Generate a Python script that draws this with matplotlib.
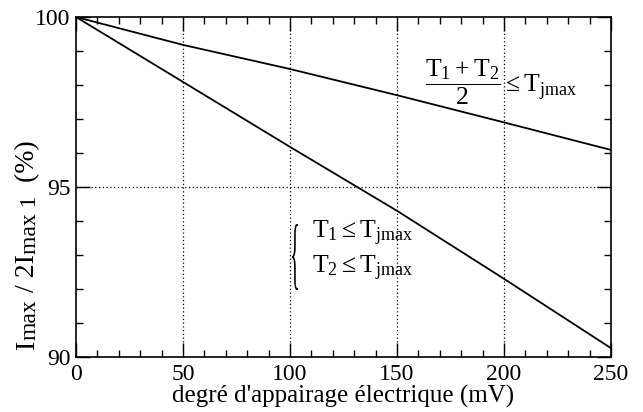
import matplotlib
matplotlib.use("Agg")
import matplotlib.pyplot as plt
from matplotlib.ticker import MultipleLocator
from matplotlib.textpath import TextPath
from matplotlib.font_manager import FontProperties
from matplotlib.patches import PathPatch
from matplotlib.transforms import Affine2D

plt.rcParams['font.family'] = ['Liberation Serif', 'DejaVu Serif']
plt.rcParams['mathtext.fontset'] = 'custom'
plt.rcParams['mathtext.rm'] = 'Liberation Serif'
plt.rcParams['mathtext.it'] = 'Liberation Serif'

# values
mv = [0, 50, 100, 150, 200, 250]
mean_limit = [100, 99.18, 98.47, 97.7, 96.9, 96.09]    # (T1+T2)/2 <= Tjmax
each_limit = [100, 98.09, 96.18, 94.3, 92.3, 90.26]    # T1, T2 <= Tjmax

W, H = 643, 412
L, R, T, B = 76, 611, 17, 357
fig = plt.figure(figsize=(W / 100, H / 100), dpi=100)
ax = fig.add_axes([L / W, 1 - B / H, (R - L) / W, (B - T) / H])

ax.plot(mv, mean_limit, color='black', lw=1.3)
ax.plot(mv, each_limit, color='black', lw=1.3)

ax.set_xlim(0, 250)
ax.set_ylim(90, 100)
ax.xaxis.set_major_locator(MultipleLocator(50))
ax.xaxis.set_minor_locator(MultipleLocator(10))
ax.yaxis.set_major_locator(MultipleLocator(5))
ax.yaxis.set_minor_locator(MultipleLocator(1))
ax.tick_params(which='both', direction='in', top=True, right=True, width=1)
ax.tick_params(which='major', length=10, labelsize=17)
ax.tick_params(axis='x', which='major', pad=5)
ax.tick_params(axis='y', which='major', pad=4)
ax.tick_params(which='minor', length=5)
for s in ax.spines.values():
    s.set_linewidth(1.2)

for x in [50, 100, 150, 200]:
    ax.axvline(x, color='black', lw=0.9, ls=(0, (1, 2)))
ax.axhline(95, color='black', lw=0.9, ls=(0, (1, 2)))

ax.set_xlabel("degré d'appairage électrique (mV)", fontsize=18, labelpad=0)

# y label built piece by piece so the subscripts stay nearly full size
pieces = [("I", False), ("max", True), (" / 2I", False), ("max 1", True), ("  (%)", False)]
fig.canvas.draw()
r = fig.canvas.get_renderer()
ypos = 349
for txt, sub in pieces:
    t = fig.text((34 + (2 if sub else 0)) / W, 1 - ypos / H, txt,
                 fontsize=17 if sub else 20, rotation=90,
                 rotation_mode='anchor', ha='left', va='baseline')
    bb = t.get_window_extent(r)
    ypos -= bb.height

# annotations
def ax_pt(px, py):
    return (px - L) / (R - L), (B - py) / (B - T)

ax.text(*ax_pt(425, 92),
        r"$\mathrm{\dfrac{T_1 + T_2}{2}\leq T_{jmax}}$",
        transform=ax.transAxes, fontsize=18.5, ha='left', va='baseline')
ax.text(*ax_pt(312, 238), r"$\mathrm{T_1 \leq T_{jmax}}$",
        transform=ax.transAxes, fontsize=18.5, ha='left', va='baseline')
ax.text(*ax_pt(312, 273), r"$\mathrm{T_2 \leq T_{jmax}}$",
        transform=ax.transAxes, fontsize=18.5, ha='left', va='baseline')

# thin tall brace
tp = TextPath((0, 0), "{", size=1, prop=FontProperties(family='Liberation Serif'))
ext = tp.get_extents()
bx0, by0, bw, bh = 292, 290, 6, 66
tr = (Affine2D().translate(-ext.x0, -ext.y0)
      .scale(bw / ext.width / W, bh / ext.height / H)
      .translate(bx0 / W, 1 - by0 / H))
fig.patches.append(PathPatch(tp, transform=tr + fig.transFigure,
                             facecolor='black', edgecolor='none'))

fig.savefig("out.png", dpi=100)
